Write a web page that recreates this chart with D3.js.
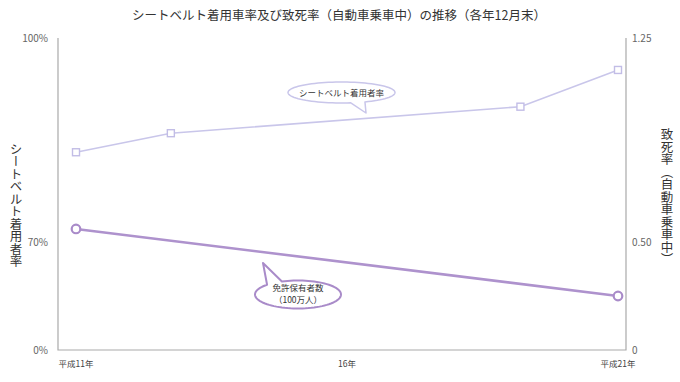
<!DOCTYPE html>
<html>
<head>
<meta charset="utf-8">
<script src="https://cdn.jsdelivr.net/npm/d3@7"></script>
<style>
  body { margin: 0; background: #fff; }
  text { font-family: "Noto Sans CJK JP", "Noto Sans", sans-serif; }
</style>
</head>
<body>
<svg id="chart" width="680" height="382"></svg>
<script>
// data
var title = 'シートベルト着用車率及び致死率（自動車乗車中）の推移（各年12月末）';
var beltYears = [11, 12.75, 19.2, 21];
var beltRate = [83.2, 86.0, 89.9, 95.3];       // %, left axis
var licYears = [11, 21];
var licValues = [0.548, 0.25];                  // right axis
var leftTicks = [0, 70, 100];
var rightTicks = [0, 0.5, 1.25];
var xTicks = [11, 16, 21];
var xTickLabels = ['平成11年', '16年', '平成21年'];

var svg = d3.select('#chart');

var plotL = 58, plotR = 626, plotT = 38, plotB = 350;

var x = d3.scaleLinear().domain([11, 21]).range([76, 618]);
// broken axes: mid tick sits at the same height on both sides
var yL = d3.scaleLinear().domain([0, 70, 100]).range([plotB, 242, plotT]);
var yR = d3.scaleLinear().domain([0, 0.5, 1.25]).range([plotB, 242, plotT]);

// title
svg.append('text')
  .attr('x', 339).attr('y', 20)
  .attr('text-anchor', 'middle')
  .attr('font-size', 12.5)
  .attr('fill', '#333')
  .text(title);

// frame (left, bottom, right)
svg.append('path')
  .attr('d', 'M' + plotL + ',' + plotT + 'V' + plotB + 'H' + plotR + 'V' + plotT)
  .attr('fill', 'none')
  .attr('stroke', '#aaa')
  .attr('stroke-width', 1.2);

// left tick labels
svg.selectAll('.lt')
  .data(leftTicks)
  .enter().append('text')
  .attr('class', 'lt')
  .attr('x', 48)
  .attr('y', function(d) { return yL(d) + 4; })
  .attr('text-anchor', 'end')
  .attr('font-size', 10)
  .attr('fill', '#666')
  .text(function(d) { return d + '%'; });

// right tick labels
svg.selectAll('.rt')
  .data(rightTicks)
  .enter().append('text')
  .attr('class', 'rt')
  .attr('x', 632)
  .attr('y', function(d) { return yR(d) + 4; })
  .attr('font-size', 10)
  .attr('fill', '#666')
  .text(function(d) { return d === 0 ? '0' : d.toFixed(2); });

// x labels
svg.selectAll('.xt')
  .data(xTicks)
  .enter().append('text')
  .attr('class', 'xt')
  .attr('x', function(d) { return x(d); })
  .attr('y', 367)
  .attr('text-anchor', 'middle')
  .attr('font-size', 8.5)
  .attr('fill', '#444')
  .text(function(d, i) { return xTickLabels[i]; });

// axis titles (vertical)
svg.append('text')
  .attr('x', 16).attr('y', 205)
  .attr('text-anchor', 'middle')
  .attr('font-size', 12.5)
  .attr('fill', '#333')
  .style('writing-mode', 'vertical-rl')
  .text('シートベルト着用者率');

svg.append('text')
  .attr('x', 667).attr('y', 197)
  .attr('text-anchor', 'middle')
  .attr('font-size', 12.5)
  .attr('fill', '#333')
  .style('writing-mode', 'vertical-rl')
  .text('致死率（自動車乗車中）');

// seatbelt line
var belt = beltYears.map(function(d, i) { return [d, beltRate[i]]; });
svg.append('path')
  .datum(belt)
  .attr('fill', 'none')
  .attr('stroke', '#c9c6ea')
  .attr('stroke-width', 1.6)
  .attr('d', d3.line()
    .x(function(d) { return x(d[0]); })
    .y(function(d) { return yL(d[1]); }));

svg.selectAll('.sq')
  .data(belt)
  .enter().append('rect')
  .attr('class', 'sq')
  .attr('x', function(d) { return x(d[0]) - 3.5; })
  .attr('y', function(d) { return yL(d[1]) - 3.5; })
  .attr('width', 7).attr('height', 7)
  .attr('fill', '#fff')
  .attr('stroke', '#c2bde6')
  .attr('stroke-width', 1.4);

// licence holders line
var lic = licYears.map(function(d, i) { return [d, licValues[i]]; });
svg.append('path')
  .datum(lic)
  .attr('fill', 'none')
  .attr('stroke', '#ae92cd')
  .attr('stroke-width', 2.6)
  .attr('d', d3.line()
    .x(function(d) { return x(d[0]); })
    .y(function(d) { return yR(d[1]); }));

svg.selectAll('.ci')
  .data(lic)
  .enter().append('circle')
  .attr('class', 'ci')
  .attr('cx', function(d) { return x(d[0]); })
  .attr('cy', function(d) { return yR(d[1]); })
  .attr('r', 4.3)
  .attr('fill', '#fff')
  .attr('stroke', '#a98bc9')
  .attr('stroke-width', 2.2);

// speech bubbles: ellipse with a tail poking out between angles a0..a1
function bubble(cx, cy, rx, ry, t1, t2, tip, color, sw) {
  var n = 90, p = '', done = false;
  for (var i = 0; i <= n; i++) {
    var a = i / n * Math.PI * 2;
    if (a > tip.a0 && a < tip.a1) {
      if (!done) { p += 'L' + tip.x + ',' + tip.y; done = true; }
      continue;
    }
    p += (i === 0 ? 'M' : 'L') + (cx + rx * Math.cos(a)) + ',' + (cy + ry * Math.sin(a));
  }
  svg.append('path')
    .attr('d', p + 'Z')
    .attr('fill', '#fff')
    .attr('stroke', color)
    .attr('stroke-width', sw)
    .attr('stroke-linejoin', 'round');
  var t = svg.append('text')
    .attr('text-anchor', 'middle')
    .attr('font-size', 8.5)
    .attr('fill', '#333');
  if (t2) {
    t.append('tspan').attr('x', cx).attr('y', cy - 3.5).text(t1);
    t.append('tspan').attr('x', cx).attr('y', cy + 8.5).text(t2);
  } else {
    t.attr('x', cx).attr('y', cy + 3.5).text(t1);
  }
}

bubble(341.5, 92.5, 53.5, 10.5, 'シートベルト着用者率', null,
  { a0: 1.18, a1: 1.36, x: 366, y: 113 }, '#c9c6ea', 1.5);
bubble(298, 294.5, 43, 14, '免許保有者数', '（100万人）',
  { a0: 3.95, a1: 4.3, x: 263, y: 263 }, '#a98bc9', 2);
</script>
</body>
</html>
